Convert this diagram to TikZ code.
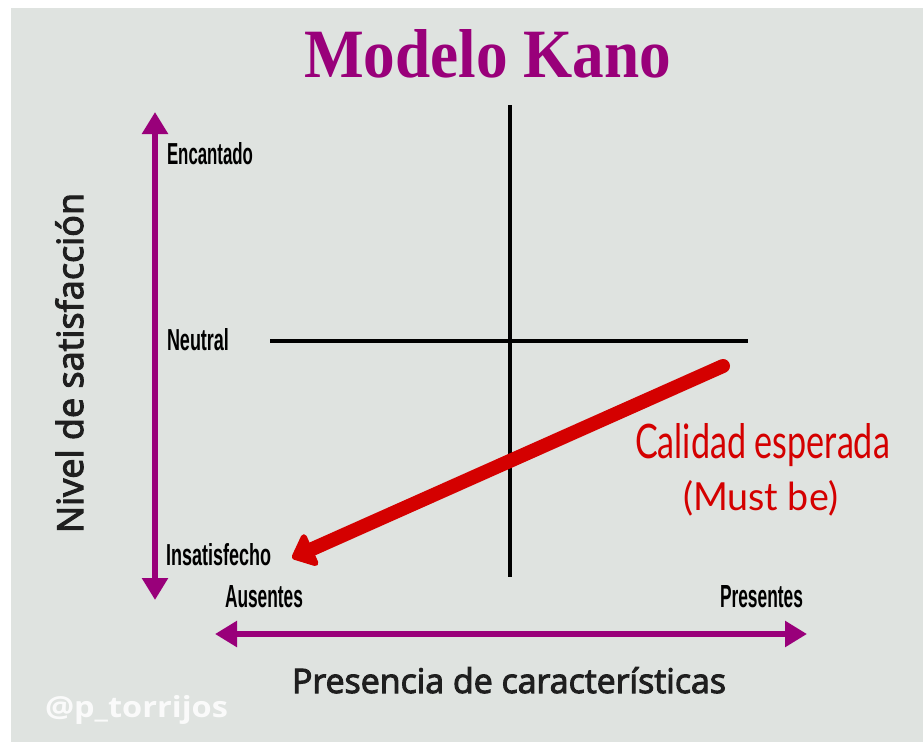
\documentclass[tikz,border=0pt]{standalone}
\usepackage{fontspec}
\usepackage{graphicx}
\usetikzlibrary{arrows.meta}
\newfontfamily\titlefont{Liberation Serif}
\newfontfamily\lblfont{Liberation Sans}
\newfontfamily\axfont{Open Sans}[UprightFeatures={FakeBold=3}]
\newfontfamily\wmfont{Open Sans}
\newfontfamily\handfont{Lato}
\definecolor{bg}{RGB}{223,227,224}
\definecolor{kpurple}{RGB}{153,0,122}
\definecolor{kred}{RGB}{212,0,0}
\tikzset{
  txt/.style={inner sep=0pt, outer sep=0pt, anchor=base west},
  lbl/.style={txt, font=\lblfont\bfseries, text=black},
  paxis/.style={draw=kpurple, line width=6.5pt, {Triangle[length=22pt,width=25pt]}-{Triangle[length=22pt,width=25pt]}},
  cross/.style={draw=black, line width=4.5pt},
  redarrow/.style={draw=kred, line width=14pt, line cap=round, -{Triangle[length=24pt,width=40pt,round]}},
}
\begin{document}
\begin{tikzpicture}[x=1pt,y=-1pt]
\useasboundingbox (0,0) rectangle (923,742);
\fill[white] (0,0) rectangle (923,742);
\fill[bg] (11,8) rectangle (923,742);
% title
\node[txt, text=kpurple] (title) at (304,77) {\resizebox{367pt}{48pt}{\titlefont\bfseries Modelo Kano}};
% axes
\coordinate (vtop) at (155,112);
\coordinate (vbot) at (155,600);
\draw[paxis] (vtop) -- (vbot);
\coordinate (hleft) at (215,634);
\coordinate (hright) at (807,634);
\draw[paxis] (hleft) -- (hright);
% cross
\coordinate (ct) at (510,105);
\coordinate (cb) at (510,577);
\coordinate (cl) at (270,341);
\coordinate (cr) at (748,341);
\draw[cross] (ct) -- (cb);
\draw[cross] (cl) -- (cr);
% labels
\node[lbl] (enc) at (167,164) {\resizebox{86pt}{22pt}{Encantado}};
\node[lbl] (neu) at (167,350) {\resizebox{62pt}{22pt}{Neutral}};
\node[lbl] (ins) at (166,565) {\resizebox{105pt}{22pt}{Insatisfecho}};
\node[lbl] (aus) at (225,607) {\resizebox{78pt}{22pt}{Ausentes}};
\node[lbl] (pre) at (720,607) {\resizebox{83pt}{22pt}{Presentes}};
\node[txt, rotate=90, text=black!88] (ylab) at (83,533) {\resizebox{340pt}{!}{\axfont Nivel de satisfacción}};
\node[txt, text=black!88] (xlab) at (292,693) {\resizebox{434pt}{!}{\axfont Presencia de características}};
% red arrow
\coordinate (rs) at (723,366);
\coordinate (re) at (292,558);
\draw[redarrow] (rs) -- (re);
\node[txt, text=kred] (cal) at (635,458) {\resizebox{255pt}{35pt}{\handfont Calidad esperada}};
\node[txt, text=kred] (must) at (683,510) {\resizebox{155pt}{30pt}{\handfont (Must be)}};
% watermark
\node[txt, text=white, text opacity=0.85] (wm) at (45,717) {\resizebox{183pt}{22pt}{\wmfont\bfseries @p\_torrijos}};
\end{tikzpicture}
\end{document}
